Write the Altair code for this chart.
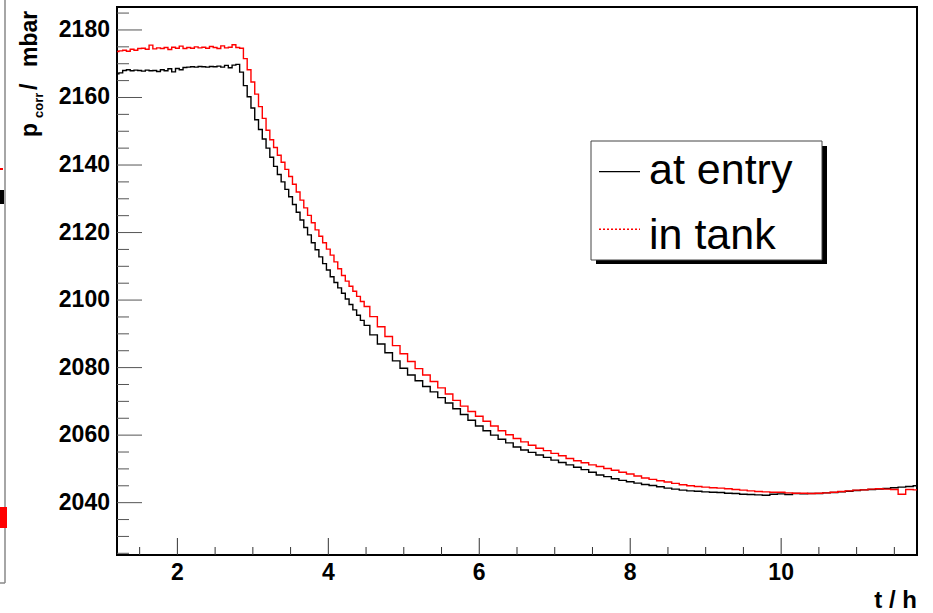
import altair as alt
import pandas as pd

# time in hours
T = [1.20, 1.25, 1.30, 1.35, 1.40, 1.45, 1.50, 1.55, 1.60, 1.65,
     1.70, 1.75, 1.80, 1.85, 1.90, 1.95, 2.00, 2.05, 2.10, 2.15,
     2.20, 2.25, 2.30, 2.35, 2.40, 2.45, 2.50, 2.55, 2.60, 2.65,
     2.70, 2.75, 2.80, 2.85, 2.90, 2.95, 3.00, 3.05, 3.10, 3.15,
     3.20, 3.25, 3.30, 3.35, 3.40, 3.45, 3.50, 3.55, 3.60, 3.65,
     3.70, 3.75, 3.80, 3.85, 3.90, 3.95, 4.00, 4.05, 4.10, 4.15,
     4.20, 4.25, 4.30, 4.35, 4.40, 4.45, 4.50, 4.6, 4.7, 4.8,
     4.9, 5.0, 5.1, 5.2, 5.3, 5.4, 5.5, 5.6, 5.7, 5.8,
     5.9, 6.0, 6.1, 6.2, 6.3, 6.4, 6.5, 6.6, 6.7, 6.8,
     6.9, 7.0, 7.1, 7.2, 7.3, 7.4, 7.5, 7.6, 7.7, 7.8,
     7.9, 8.0, 8.1, 8.2, 8.3, 8.4, 8.5, 8.6, 8.7, 8.8,
     8.9, 9.0, 9.1, 9.2, 9.3, 9.4, 9.5, 9.6, 9.7, 9.8,
     9.9, 10.0, 10.1, 10.2, 10.3, 10.4, 10.5, 10.6, 10.7, 10.8,
     10.9, 11.0, 11.1, 11.2, 11.3, 11.4, 11.5, 11.6, 11.7, 11.8]

# p_corr at entry (mbar)
P_ENTRY = [2167.0, 2167.3, 2168.0, 2168.2, 2167.9, 2168.1, 2168.0, 2167.8, 2168.1, 2167.9,
           2168.0, 2167.7, 2168.2, 2167.9, 2168.5, 2167.6, 2168.6, 2168.2, 2168.9, 2169.0,
           2169.1, 2169.0, 2169.2, 2169.1, 2169.0, 2169.2, 2169.1, 2169.3, 2169.0, 2169.5,
           2168.8, 2169.6, 2169.8, 2167.5, 2163.5, 2160.2, 2156.9, 2153.4, 2150.5, 2147.7,
           2145.0, 2142.3, 2139.6, 2137.2, 2135.0, 2132.8, 2130.6, 2128.3, 2126.0, 2123.7,
           2121.5, 2119.3, 2117.0, 2114.9, 2112.8, 2110.8, 2108.9, 2106.9, 2105.2, 2103.6,
           2102.0, 2100.3, 2098.7, 2097.1, 2095.5, 2094.0, 2092.5, 2089.7, 2087.0, 2084.4,
           2082.0, 2079.8, 2077.8, 2076.1, 2074.4, 2072.8, 2071.1, 2069.5, 2067.8, 2066.1,
           2064.4, 2062.7, 2061.3, 2060.0, 2058.8, 2057.7, 2056.5, 2055.6, 2054.9, 2054.1,
           2053.4, 2052.6, 2051.9, 2051.2, 2050.5, 2049.8, 2049.0, 2048.2, 2047.7, 2047.1,
           2046.6, 2046.2, 2045.8, 2045.4, 2045.1, 2044.7, 2044.3, 2044.0, 2043.7, 2043.5,
           2043.4, 2043.2, 2043.1, 2043.0, 2042.8, 2042.7, 2042.5, 2042.4, 2042.3, 2042.2,
           2042.5, 2042.6, 2042.4, 2042.7, 2042.6, 2042.7, 2042.7, 2042.9, 2043.0, 2043.2,
           2043.4, 2043.6, 2043.8, 2043.9, 2044.0, 2044.2, 2044.4, 2044.6, 2044.8, 2045.0]

# p_corr in tank (mbar)
P_TANK = [2173.6, 2173.8, 2174.0, 2173.7, 2174.3, 2174.0, 2174.5, 2174.6, 2174.3, 2175.5,
          2174.4, 2174.7, 2174.5, 2174.8, 2174.2, 2174.9, 2174.6, 2175.2, 2174.5, 2174.8,
          2174.6, 2175.0, 2174.7, 2174.9, 2174.6, 2175.1, 2174.8, 2174.5, 2175.3, 2174.7,
          2174.9, 2175.6, 2174.8, 2174.6, 2171.5, 2168.2, 2164.6, 2161.0, 2157.3, 2153.8,
          2150.3, 2147.5, 2145.2, 2142.9, 2140.8, 2138.7, 2136.6, 2134.3, 2132.0, 2129.6,
          2127.3, 2125.1, 2122.9, 2120.8, 2118.9, 2117.0, 2115.1, 2113.3, 2111.3, 2109.3,
          2107.3, 2105.6, 2104.1, 2102.6, 2101.1, 2099.6, 2098.1, 2095.1, 2092.1, 2089.2,
          2086.5, 2084.1, 2081.8, 2079.7, 2077.8, 2075.9, 2074.0, 2072.2, 2070.3, 2068.6,
          2067.0, 2065.6, 2064.1, 2062.7, 2061.3, 2060.1, 2059.0, 2058.0, 2057.0, 2056.1,
          2055.4, 2054.6, 2053.9, 2053.1, 2052.4, 2051.8, 2051.2, 2050.7, 2050.1, 2049.6,
          2049.0, 2048.5, 2047.9, 2047.3, 2046.9, 2046.5, 2046.1, 2045.7, 2045.3, 2045.0,
          2044.8, 2044.6, 2044.4, 2044.3, 2044.1, 2043.9, 2043.7, 2043.5, 2043.3, 2043.2,
          2043.1, 2043.1, 2042.9, 2042.8, 2042.8, 2042.7, 2042.8, 2042.9, 2043.1, 2043.3,
          2043.5, 2043.7, 2043.8, 2044.0, 2044.1, 2044.0, 2043.9, 2042.5, 2043.9, 2043.8]

SERIES = ["at entry", "in tank"]

X_MAJOR = [2, 4, 6, 8, 10]
X_LABELS = ["2", "4", "6", "8", "10"]
X_MINOR = [1.5, 2.5, 3, 3.5, 4.5, 5, 5.5, 6.5, 7, 7.5, 8.5, 9, 9.5, 10.5, 11, 11.5]
Y_MAJOR = [2040, 2060, 2080, 2100, 2120, 2140, 2160, 2180]
Y_LABELS = ["2040", "2060", "2080", "2100", "2120", "2140", "2160", "2180"]
Y_MINOR = [2025, 2030, 2035, 2045, 2050, 2055, 2065, 2070, 2075, 2085, 2090, 2095,
           2105, 2110, 2115, 2125, 2130, 2135, 2145, 2150, 2155, 2165, 2170, 2175, 2185]

W, H = 800, 548
FONT = "Liberation Sans"
xs = alt.Scale(domain=[1.2, 11.8], nice=False, zero=False)
ys = alt.Scale(domain=[2024.5, 2186.8], nice=False, zero=False)

df = pd.DataFrame({"t": T, "entry": P_ENTRY, "tank": P_TANK})
one = pd.DataFrame({"a": [0]})

entry = alt.Chart(df).mark_line(color="black", strokeWidth=1.4, clip=True,
                                interpolate="step").encode(
    x=alt.X("t:Q", scale=xs, axis=None),
    y=alt.Y("entry:Q", scale=ys, axis=None),
)
tank = alt.Chart(df).mark_line(color="red", strokeWidth=1.4, clip=True,
                               interpolate="step").encode(
    x=alt.X("t:Q", scale=xs, axis=None),
    y=alt.Y("tank:Q", scale=ys, axis=None),
)

# inward ROOT-style ticks
ymaj = alt.Chart(pd.DataFrame({"v": Y_MAJOR})).mark_rule(color="#555", strokeWidth=1).encode(
    y=alt.Y("v:Q", scale=ys, axis=None), x=alt.value(0), x2=alt.value(25))
ymin = alt.Chart(pd.DataFrame({"v": Y_MINOR})).mark_rule(color="#555", strokeWidth=1).encode(
    y=alt.Y("v:Q", scale=ys, axis=None), x=alt.value(0), x2=alt.value(12))
xmaj = alt.Chart(pd.DataFrame({"v": X_MAJOR})).mark_rule(color="#333", strokeWidth=1).encode(
    x=alt.X("v:Q", scale=xs, axis=None), y=alt.value(H), y2=alt.value(H - 17))
xmin = alt.Chart(pd.DataFrame({"v": X_MINOR})).mark_rule(color="#333", strokeWidth=1).encode(
    x=alt.X("v:Q", scale=xs, axis=None), y=alt.value(H), y2=alt.value(H - 8))

# tick labels
ylab = alt.Chart(pd.DataFrame({"v": Y_MAJOR, "s": Y_LABELS})).mark_text(
    font=FONT, fontSize=23, fontWeight="bold", align="right", baseline="middle",
    color="black").encode(
    y=alt.Y("v:Q", scale=ys, axis=None), x=alt.value(-7), text="s:N")
xlab = alt.Chart(pd.DataFrame({"v": X_MAJOR, "s": X_LABELS})).mark_text(
    font=FONT, fontSize=23, fontWeight="bold", align="center", baseline="alphabetic",
    color="black").encode(
    x=alt.X("v:Q", scale=xs, axis=None), y=alt.value(H + 25), text="s:N")

# legend box
shadow = alt.Chart(one).mark_rect(color="black").encode(
    x=alt.value(479), x2=alt.value(710), y=alt.value(139), y2=alt.value(257))
box = alt.Chart(one).mark_rect(fill="white", stroke="#444", strokeWidth=1).encode(
    x=alt.value(474), x2=alt.value(705), y=alt.value(134), y2=alt.value(253))
leg_l1 = alt.Chart(one).mark_rule(color="black", strokeWidth=1.2).encode(
    x=alt.value(482), x2=alt.value(523), y=alt.value(164.7))
leg_l2 = alt.Chart(one).mark_rule(color="#ff0000", strokeWidth=1.5, strokeDash=[2, 2]).encode(
    x=alt.value(482), x2=alt.value(523), y=alt.value(222.3))
leg_t1 = alt.Chart(one).mark_text(text=SERIES[0], font=FONT, fontSize=43, align="left",
                                  baseline="alphabetic", color="black").encode(
    x=alt.value(532), y=alt.value(177))
leg_t2 = alt.Chart(one).mark_text(text=SERIES[1], font=FONT, fontSize=43, align="left",
                                  baseline="alphabetic", color="black").encode(
    x=alt.value(532), y=alt.value(242))

# axis titles
def rot_text(txt, x, y, size):
    return alt.Chart(one).mark_text(text=txt, font=FONT, fontSize=size, fontWeight="bold",
                                    angle=270, align="left", baseline="alphabetic",
                                    color="black").encode(x=alt.value(x), y=alt.value(y))

yt_p = rot_text("p", -80, 130, 23)
yt_sub = rot_text("corr", -74, 111, 13)
yt_slash = rot_text("/", -80, 83, 23)
yt_mbar = rot_text("mbar", -80, 60, 23)
xt = alt.Chart(one).mark_text(text="t / h", font=FONT, fontSize=24, fontWeight="bold",
                              align="right", baseline="alphabetic", color="black").encode(
    x=alt.value(W), y=alt.value(601))

# remnant of neighbouring panel at left edge
strip = alt.Chart(one).mark_rule(color="#888", strokeWidth=1.5).encode(
    x=alt.value(-112), y=alt.value(-7), y2=alt.value(576))
strip_b = alt.Chart(one).mark_rule(color="#888", strokeWidth=1.5).encode(
    x=alt.value(-117), x2=alt.value(-112), y=alt.value(576))
blob_r = alt.Chart(one).mark_rect(color="red").encode(
    x=alt.value(-117), x2=alt.value(-110), y=alt.value(500), y2=alt.value(521))
blob_r2 = alt.Chart(one).mark_rect(color="red").encode(
    x=alt.value(-117), x2=alt.value(-114), y=alt.value(161), y2=alt.value(163))
blob_k = alt.Chart(one).mark_rect(color="black").encode(
    x=alt.value(-117), x2=alt.value(-113), y=alt.value(183), y2=alt.value(197))

chart = alt.layer(
    entry, tank, ymaj, ymin, xmaj, xmin, ylab, xlab,
    shadow, box, leg_l1, leg_l2, leg_t1, leg_t2,
    yt_p, yt_sub, yt_slash, yt_mbar, xt,
    strip, strip_b, blob_r, blob_r2, blob_k,
).properties(
    width=W, height=H,
    autosize=alt.AutoSizeParams(type="none"),
    padding={"left": 117, "top": 7, "right": 16, "bottom": 58},
    background="white",
).configure_view(stroke="black", strokeWidth=2)

chart.save("out.html", embed_options={"renderer": "svg", "actions": False})
